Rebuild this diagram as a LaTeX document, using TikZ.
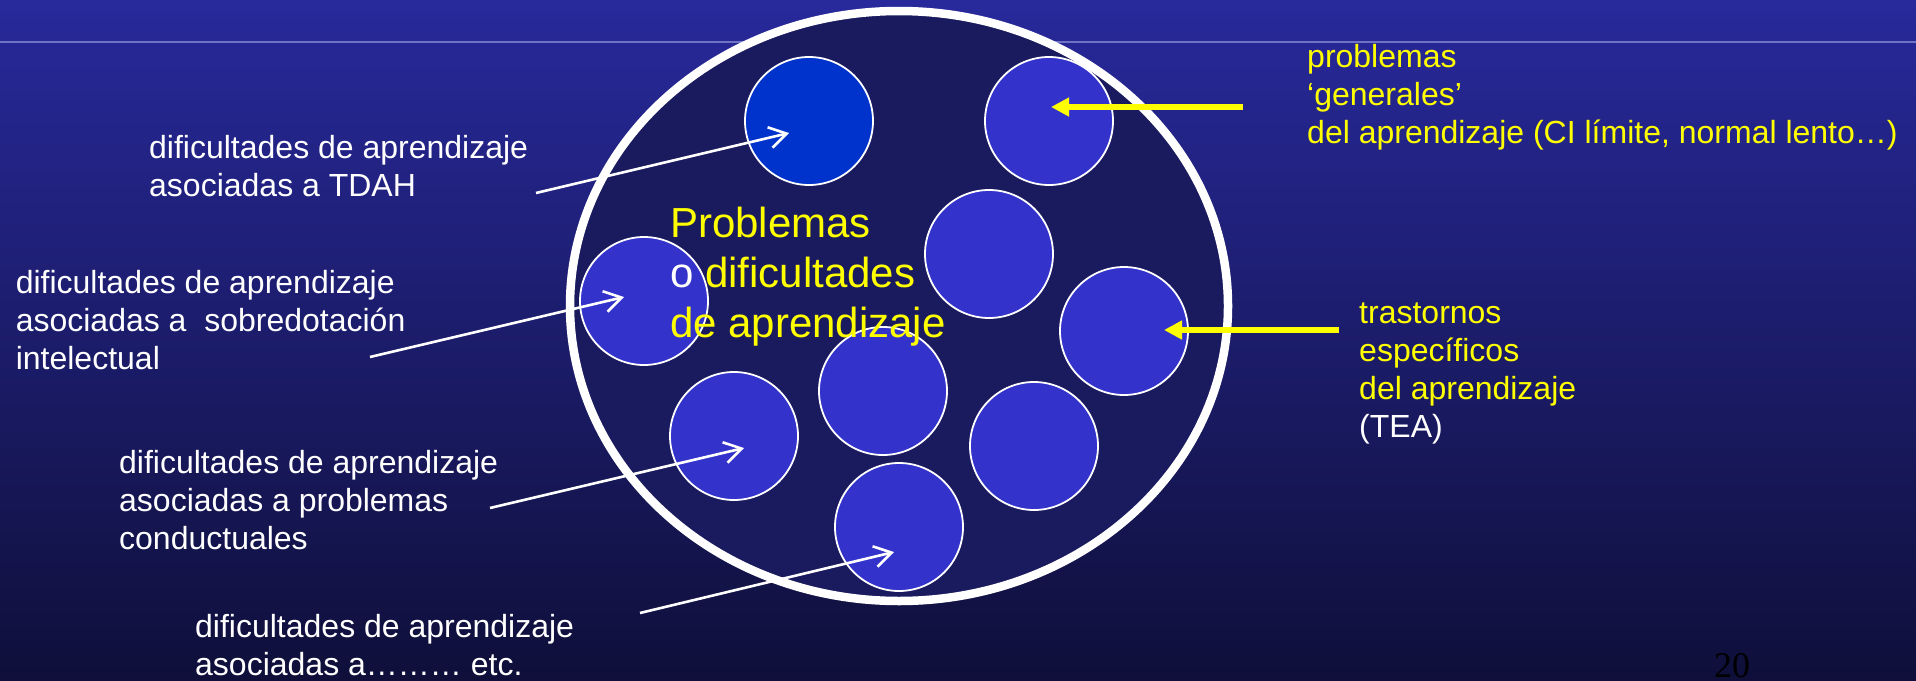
\documentclass[tikz,border=0pt]{standalone}
\usepackage{fontspec}
\setmainfont{Liberation Sans}
\newfontfamily\pagenumfont{Liberation Serif}
\usetikzlibrary{arrows.meta,shapes.geometric}
\definecolor{bgtop}{HTML}{28299B}
\definecolor{bgbot}{HTML}{0F0F3A}
\definecolor{ellfill}{HTML}{1A1A5E}
\definecolor{circfill}{HTML}{3333CC}
\definecolor{circdark}{HTML}{0033CC}
\definecolor{hline}{HTML}{7072C4}
\definecolor{ylw}{HTML}{FFFF00}
\newcommand\mylines[1]{\begin{tabular}[t]{@{}l@{}}#1\end{tabular}}
\begin{document}
\begin{tikzpicture}[x=1pt,y=-1pt,
  blob/.style={circle,draw=white,line width=1.8pt,fill=circfill,minimum size=128pt,inner sep=0pt},
  lbl/.style={anchor=base west,inner sep=0pt,text=white,font=\fontsize{32}{38}\selectfont},
  ylbl/.style={lbl,text=ylw},
  warrow/.style={draw=white,line width=2.6pt,-{Straight Barb[length=17pt,width=21pt,line width=2.6pt]}},
  yarrow/.style={draw=ylw,line width=6pt,-{Triangle[length=18pt,width=18pt]}}]
\useasboundingbox (0,0) rectangle (1916,680);
\shade[top color=bgtop,bottom color=bgbot] (0,0) rectangle (1916,680);
\coordinate (hl1) at (0,42);
\coordinate (hl2) at (1916,42);
\draw[hline,line width=1.2pt] (hl1) -- (hl2);
% big ellipse
\node[ellipse,draw=white,line width=8.5pt,fill=ellfill,minimum width=658pt,minimum height=590pt,inner sep=0pt] (E) at (899,306) {};
% circles
\node[blob,fill=circdark] (c1) at (809,121) {};
\node[blob] (c2) at (1049,121) {};
\node[blob] (c3) at (989,254) {};
\node[blob] (c4) at (1124,331) {};
\node[blob] (c5) at (644,301) {};
\node[blob] (c6) at (883,391) {};
\node[blob] (c7) at (734,436) {};
\node[blob] (c8) at (1034,446) {};
\node[blob] (c9) at (899,527) {};
% central title
\node[anchor=base west,inner sep=0pt,text=ylw,font=\fontsize{42}{50}\selectfont] (title) at (670,237)
  {\mylines{Problemas\\ {\color{white}o} dificultades\\ de aprendizaje}};
% left labels
\node[lbl] (L1) at (149,158) {\mylines{dificultades de aprendizaje\\ asociadas a TDAH}};
\node[lbl] (L2) at (15.6,293) {\mylines{dificultades de aprendizaje\\ asociadas a\ \ sobredotación\\ intelectual}};
\node[lbl] (L3) at (119,473) {\mylines{dificultades de aprendizaje\\ asociadas a problemas\\ conductuales}};
\node[lbl] (L4) at (195,637) {\mylines{dificultades de aprendizaje\\ asociadas a……… etc.}};
% right labels
\node[ylbl] (R1) at (1307,67) {\mylines{problemas\\ ‘generales’\\ del aprendizaje (CI límite, normal lento…)}};
\node[ylbl] (R2) at (1359,323) {\mylines{trastornos\\ específicos\\ del aprendizaje\\ {\color{white}(TEA)}}};
% page number
\node[anchor=base west,inner sep=0pt,text=black,font=\pagenumfont\fontsize{36}{40}\selectfont] (pg) at (1714,677) {20};
% white arrows
\coordinate (a1s) at (536,193); \coordinate (a1t) at (789,133);
\coordinate (a2s) at (370,357); \coordinate (a2t) at (624,297);
\coordinate (a3s) at (490,508); \coordinate (a3t) at (744,448);
\coordinate (a4s) at (640,613); \coordinate (a4t) at (894,552);
\draw[warrow] (a1s) -- (a1t);
\draw[warrow] (a2s) -- (a2t);
\draw[warrow] (a3s) -- (a3t);
\draw[warrow] (a4s) -- (a4t);
% yellow arrows
\coordinate (y1s) at (1243,107); \coordinate (y1t) at (1051,107);
\coordinate (y2s) at (1339,330); \coordinate (y2t) at (1164,330);
\draw[yarrow] (y1s) -- (y1t);
\draw[yarrow] (y2s) -- (y2t);
\end{tikzpicture}
\end{document}
